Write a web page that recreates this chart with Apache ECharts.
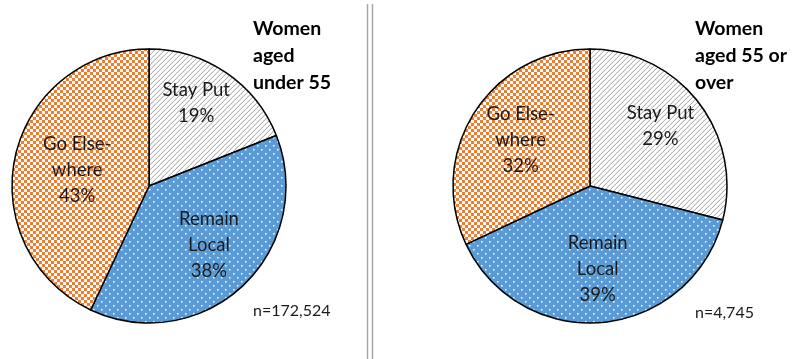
<!DOCTYPE html>
<html>
<head>
<meta charset="utf-8">
<script src="https://cdn.jsdelivr.net/npm/echarts@6/dist/echarts.min.js"></script>
<style>
  html, body { margin: 0; padding: 0; background: #fff; }
  #chart { width: 801px; height: 359px; }
</style>
</head>
<body>
<div id="chart"></div>
<script>
// Destination shares of women, by age group
const categories = ['Stay Put', 'Remain Local', 'Go Elsewhere'];
const labelNames = ['Stay Put', 'Remain\nLocal', 'Go Else-\nwhere'];
const under55Values = [19, 38, 43];
const over55Values = [29, 39, 32];
const groupTitles = ['Women\naged\nunder 55', 'Women\naged 55 or\nover'];
const sampleSizes = ['n=172,524', 'n=4,745'];

const FONT = 'Lato, "Open Sans", sans-serif';

// Fill patterns for the three slices
function makeTile(w, h, draw) {
  const c = document.createElement('canvas');
  c.width = w; c.height = h;
  draw(c.getContext('2d'));
  return c;
}
const hatchTile = makeTile(5, 5, ctx => {
  ctx.fillStyle = '#ffffff';
  ctx.fillRect(0, 0, 5, 5);
  for (let x = 0; x < 5; x++) {
    for (let y = 0; y < 5; y++) {
      const k = (x + y) % 5;
      if (k === 4) { ctx.fillStyle = '#b2b2b2'; ctx.fillRect(x, y, 1, 1); }
      else if (k === 3) { ctx.fillStyle = '#ececec'; ctx.fillRect(x, y, 1, 1); }
    }
  }
});
const dotTile = makeTile(8, 8, ctx => {
  ctx.fillStyle = '#5b9bd5';
  ctx.fillRect(0, 0, 8, 8);
  ctx.fillStyle = '#ffffff';
  ctx.fillRect(1, 1, 1.5, 1.5);
  ctx.fillRect(5, 5, 1.5, 1.5);
});
const checkTile = makeTile(6, 6, ctx => {
  ctx.fillStyle = '#ffffff';
  ctx.fillRect(0, 0, 6, 6);
  ctx.fillStyle = '#ed7d31';
  ctx.fillRect(0, 0, 3, 3);
  ctx.fillRect(3, 3, 3, 3);
});
const fills = [
  { image: hatchTile, repeat: 'repeat' },
  { image: dotTile, repeat: 'repeat' },
  { image: checkTile, repeat: 'repeat' }
];

// Label nudges away from the default mid-radius spot
const offsetsLeft = [[7, -24], [11, 7], [-2, 0]];
const offsetsRight = [[14, -16], [1, 12], [-9, -8]];

function buildData(values, offsets) {
  return categories.map((name, i) => ({
    name: name,
    value: values[i],
    itemStyle: { color: fills[i] },
    label: {
      offset: offsets[i],
      formatter: () => labelNames[i] + '\n' + values[i] + '%'
    }
  }));
}

function pieSeries(center, values, offsets) {
  return {
    type: 'pie',
    center: center,
    radius: [0, 137],
    startAngle: 90,
    clockwise: true,
    silent: true,
    avoidLabelOverlap: false,
    itemStyle: { borderColor: '#000', borderWidth: 1.5 },
    label: {
      show: true,
      position: 'inside',
      color: '#1a1a1a',
      fontFamily: FONT,
      fontSize: 18.5,
      lineHeight: 26,
      align: 'center'
    },
    labelLine: { show: false },
    emphasis: { disabled: true },
    data: buildData(values, offsets)
  };
}

const titleStyle = { fontFamily: FONT, fontSize: 19.5, fontWeight: 'bold', color: '#000', lineHeight: 27 };
const noteStyle = { fontFamily: FONT, fontSize: 16, fontWeight: 'normal', color: '#1a1a1a' };

const chart = echarts.init(document.getElementById('chart'), null, { renderer: 'canvas' });
chart.setOption({
  animation: false,
  backgroundColor: '#ffffff',
  title: [
    { text: groupTitles[0], left: 248, top: 10, textStyle: titleStyle },
    { text: groupTitles[1], left: 690, top: 10, textStyle: titleStyle },
    { text: sampleSizes[0], left: 248, top: 298, textStyle: noteStyle },
    { text: sampleSizes[1], left: 690, top: 300, textStyle: noteStyle }
  ],
  graphic: [
    { type: 'line', shape: { x1: 367.5, y1: 4, x2: 367.5, y2: 359 },
      style: { stroke: '#a6a6a6', lineWidth: 1.5 } },
    { type: 'line', shape: { x1: 372.5, y1: 4, x2: 372.5, y2: 359 },
      style: { stroke: '#a6a6a6', lineWidth: 1.5 } }
  ],
  series: [
    pieSeries([149, 186], under55Values, offsetsLeft),
    pieSeries([590, 186], over55Values, offsetsRight)
  ]
});
</script>
</body>
</html>
